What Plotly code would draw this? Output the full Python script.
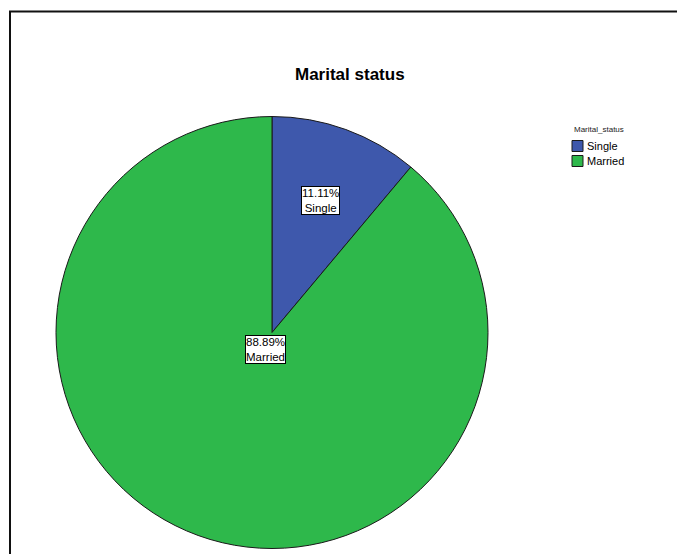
import math
import plotly.graph_objects as go

# ---- data ----
categories = ["Single", "Married"]
percentages = [11.11, 88.89]
colors = ["#3E58AC", "#2EB84B"]
title_text = "Marital status"
legend_title = "Marital_status"

W, H = 677, 554
# pie placement (pixels)
pcx, pcy, pr = 272, 332.5, 216
label_rfrac = [0.65, 0.083]

dom_x = [(pcx - pr) / W, (pcx + pr) / W]
dom_y = [1 - (pcy + pr) / H, 1 - (pcy - pr) / H]

fig = go.Figure(go.Pie(
    labels=categories,
    values=percentages,
    marker=dict(colors=colors, line=dict(color="#1a1a1a", width=1)),
    sort=False,
    direction="clockwise",
    rotation=0,
    textinfo="none",
    hoverinfo="label+percent",
    showlegend=False,
    domain=dict(x=dom_x, y=dom_y),
))

annotations = []
shapes = []

# slice labels placed along each slice's mid angle
total = sum(percentages)
cum = 0.0
for cat, val, rf in zip(categories, percentages, label_rfrac):
    mid = (cum + val / 2) / total * 360.0
    cum += val
    ang = math.radians(mid)
    px = pcx + rf * pr * math.sin(ang)
    py = pcy - rf * pr * math.cos(ang)
    annotations.append(dict(
        x=px / W, y=1 - py / H, xref="paper", yref="paper",
        text=f"{val:.2f}%<br>{cat}", showarrow=False,
        font=dict(family="Liberation Sans, Arial", size=11.5, color="black"),
        bgcolor="white", bordercolor="black", borderwidth=1, borderpad=0,
        xanchor="center", yanchor="middle",
    ))

# title
annotations.append(dict(
    x=350 / W, y=1 - 74 / H, xref="paper", yref="paper",
    text=f"<b>{title_text}</b>", showarrow=False,
    font=dict(family="Liberation Sans, Arial", size=17, color="black"),
    xanchor="center", yanchor="middle",
))

# manual legend
lx, ly0, step = 572, 146, 15
annotations.append(dict(
    x=lx / W, y=1 - 129 / H, xref="paper", yref="paper",
    text=legend_title, showarrow=False,
    font=dict(family="Liberation Sans, Arial", size=8, color="#222"),
    xanchor="left", yanchor="middle",
))
for i, (cat, col) in enumerate(zip(categories, colors)):
    yc = ly0 + i * step
    shapes.append(dict(
        type="rect", xref="paper", yref="paper",
        x0=lx / W, x1=(lx + 11) / W, y0=1 - (yc + 5.5) / H, y1=1 - (yc - 5.5) / H,
        fillcolor=col, line=dict(color="#1a1a1a", width=1),
    ))
    annotations.append(dict(
        x=(lx + 13) / W, y=1 - yc / H, xref="paper", yref="paper",
        text=cat, showarrow=False,
        font=dict(family="Liberation Sans, Arial", size=11, color="black"),
        xanchor="left", yanchor="middle",
    ))

# frame (top and left edges visible)
shapes.append(dict(
    type="rect", xref="paper", yref="paper",
    x0=10 / W, x1=1.02, y0=-0.02, y1=1 - 11.5 / H,
    line=dict(color="#111", width=2), fillcolor="rgba(0,0,0,0)",
))

fig.update_layout(
    width=W, height=H,
    margin=dict(l=0, r=0, t=0, b=0),
    paper_bgcolor="white", plot_bgcolor="white",
    annotations=annotations, shapes=shapes,
    showlegend=False,
)

fig.write_html("out.html")
